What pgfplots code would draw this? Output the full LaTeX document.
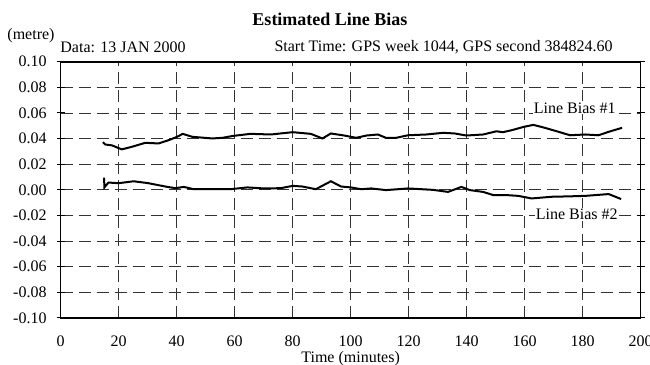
\documentclass[border=0pt]{standalone}
\usepackage{pgfplots}
\pgfplotsset{compat=1.18}
\usepackage{fontspec}
\setmainfont{Liberation Serif}
\begin{document}
\begin{tikzpicture}
\useasboundingbox (-30.3pt,-23.5pt) rectangle (294.7pt,159pt);
\begin{axis}[
  at={(0pt,0pt)}, anchor=south west,
  scale only axis, width=290pt, height=128.15pt,
  xmin=0, xmax=200, ymin=-0.1, ymax=0.1,
  xtick={0,20,...,200},
  xticklabels={0,20,40,60,80,100,120,140,160,180,200},
  ytick={-0.1,-0.08,-0.06,-0.04,-0.02,0,0.02,0.04,0.06,0.08,0.1},
  yticklabels={-0.10,-0.08,-0.06,-0.04,-0.02,0.00,0.02,0.04,0.06,0.08,0.10},
  tick label style={font=\fontsize{8}{9.6}\selectfont},
  xticklabel style={yshift=-3.5pt},
  yticklabel style={xshift=-1.5pt},
  x tick style={draw=none},
  y tick style={black, line width=0.5pt, solid},
  tick align=center, major tick length=4pt,
  grid=major,
  major grid style={black!80, line width=0.45pt, dash pattern=on 6pt off 3pt},
  axis line style={black, line width=0.8pt, solid},
  clip=false,
]
\addplot[black, line width=1pt] coordinates {
(14.6,0.0372) (15.4,0.0354) (17.7,0.0347) (21.1,0.0316) (24.6,0.0336) (29.2,0.0367)
(33.8,0.0362) (37.3,0.0388) (40.2,0.0414) (42.1,0.0437) (45.4,0.0414) (52.3,0.0401)
(55.8,0.0406) (59.5,0.0421) (65.5,0.0437) (72.5,0.0432) (80,0.0450) (86.3,0.0437)
(90.3,0.0401) (93.2,0.0440) (97.8,0.0424) (101.9,0.0406) (105.5,0.0424) (109.4,0.0432)
(112.2,0.0406) (115.7,0.0406) (119.8,0.0426) (126.1,0.0432) (131.9,0.0445) (135.9,0.0440)
(139.9,0.0424) (145.7,0.0432) (150.3,0.0457) (152.5,0.0450) (155.5,0.0465) (159.6,0.0491)
(163,0.0507) (167,0.0484) (171.7,0.0453) (175.7,0.0426) (180.9,0.0432) (185.5,0.0426)
(189,0.0453) (193.6,0.0484)
};
\addplot[black, line width=1pt] coordinates {
(15,0.0096) (15.1,0.0019) (16.5,0.0057) (20,0.0052) (25.2,0.0067) (30.3,0.0052)
(36.1,0.0026) (39.6,0.0013) (42.5,0.0023) (45.9,0.0005) (52.3,0.0005) (58.6,0.0005)
(64.4,0.0019) (70.1,0.0011) (75.9,0.0013) (80,0.0031) (83.4,0.0026) (88,0.0005)
(93.2,0.0067) (96.7,0.0026) (100.1,0.0019) (103.6,0.0005) (107.1,0.0011) (112.2,-0.0002)
(119.8,0.0011) (128.4,0.0000) (133.6,-0.0016) (138.2,0.0023) (141.1,-0.0002) (145.7,-0.0016)
(149.2,-0.0041) (153.8,-0.0041) (157.8,-0.0047) (162.4,-0.0067) (169.3,-0.0054)
(175.1,-0.0051) (180.9,-0.0047) (189,-0.0033) (193.3,-0.0072)
};
\node[fill=white, inner sep=0.5pt, font=\fontsize{8}{9.6}\selectfont] at (axis cs:177.3,0.064) {Line Bias \#1};
\node[fill=white, inner sep=0.5pt, font=\fontsize{8}{9.6}\selectfont] at (axis cs:178,-0.019) {Line Bias \#2};
\end{axis}
\draw[black, line width=0.8pt, solid] (0pt,0pt) rectangle (290pt,128.15pt);
\node[font=\fontsize{9}{10.8}\selectfont\bfseries] at (134.7pt,149.5pt) {Estimated Line Bias};
\node[font=\fontsize{8}{9.6}\selectfont] at (-14.8pt,141pt) {(metre)};
\node[font=\fontsize{8}{9.6}\selectfont, anchor=west, inner sep=0pt] at (-0.3pt,135.5pt) {Data: 13 JAN 2000};
\node[font=\fontsize{8}{9.6}\selectfont, anchor=east, inner sep=0pt] at (276.2pt,135.5pt) {Start Time: GPS week 1044, GPS second 384824.60};
\node[font=\fontsize{8}{9.6}\selectfont] at (145pt,-20.3pt) {Time (minutes)};
\end{tikzpicture}
\end{document}
